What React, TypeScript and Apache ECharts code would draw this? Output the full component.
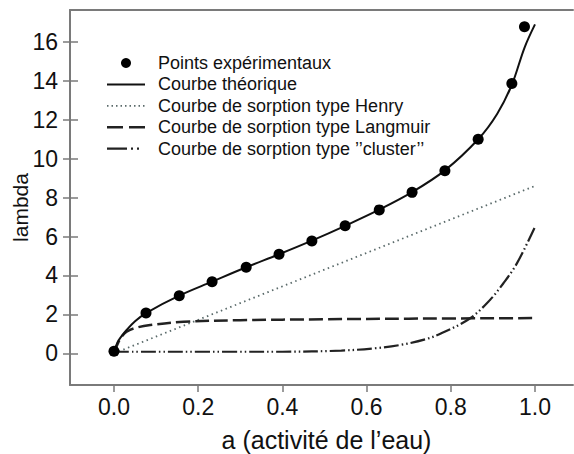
import React, { useEffect, useRef } from "react";
import * as echarts from "echarts";

// Experimental points (water activity, lambda)
const pointsX = [0.0, 0.076, 0.155, 0.233, 0.314, 0.392, 0.47, 0.549, 0.63, 0.708, 0.786, 0.865, 0.945, 0.975];
const pointsY = [0.1, 2.07, 2.96, 3.68, 4.42, 5.09, 5.77, 6.55, 7.37, 8.27, 9.38, 11.0, 13.87, 16.78];

// Theoretical curve
const theoX = [0, 0.008, 0.018, 0.03, 0.05, 0.076, 0.155, 0.233, 0.314, 0.392, 0.47, 0.549, 0.63, 0.708, 0.786, 0.865, 0.91, 0.945, 0.975, 1.0];
const theoY = [0.05, 0.55, 0.88, 1.2, 1.65, 2.07, 2.96, 3.68, 4.42, 5.09, 5.79, 6.55, 7.38, 8.28, 9.4, 11.0, 12.3, 13.8, 15.7, 16.9];

// Henry sorption (straight line)
const henryX = [0, 1.0];
const henryY = [0, 8.6];

// Langmuir sorption
const langX = [0, 0.01, 0.02, 0.03, 0.05, 0.086, 0.165, 0.3, 0.5, 0.7, 1.0];
const langY = [0, 0.55, 0.9, 1.11, 1.3, 1.45, 1.62, 1.7, 1.75, 1.78, 1.81];

// Cluster sorption
const clusX = [0, 0.4, 0.54, 0.62, 0.68, 0.74, 0.78, 0.846, 0.893, 0.925, 0.957, 1.0];
const clusY = [0.08, 0.08, 0.14, 0.26, 0.43, 0.72, 1.05, 1.8, 2.74, 3.6, 4.62, 6.5];

const xTicks = [0, 0.2, 0.4, 0.6, 0.8, 1.0];
const yTicks = [0, 2, 4, 6, 8, 10, 12, 14, 16];

const names = [
  "Points expérimentaux",
  "Courbe théorique",
  "Courbe de sorption type Henry",
  "Courbe de sorption type Langmuir",
  "Courbe de sorption type \u2019\u2019cluster\u2019\u2019",
];

const zip = (xs: number[], ys: number[]) => xs.map((x, i) => [x, ys[i]]);

const FONT = "'Liberation Sans', Arial, sans-serif";
const AXIS_GRAY = "#7a7a7a";

const HENRY_COLOR = "#5a6a6a";
const HENRY_DASH = [1.5, 3.5];
const LANG_DASH = [14, 5];
const CLUS_DASH = [15, 3, 1.5, 3, 1.5, 3];

function legendGraphic() {
  const x0 = 107;
  const x1 = 145;
  const tx = 158;
  const y0 = 63;
  const dy = 21.4;
  const els: any[] = [];
  const lineStyles: any[] = [
    null,
    { stroke: "#111", lineWidth: 2 },
    { stroke: HENRY_COLOR, lineWidth: 1.8, lineDash: [1.5, 3] },
    { stroke: "#222", lineWidth: 2.5, lineDash: [16, 6] },
    { stroke: "#222", lineWidth: 2.2, lineDash: [20, 4, 2, 4, 2, 6] },
  ];
  names.forEach((n, i) => {
    const y = y0 + i * dy;
    if (i === 0) {
      els.push({ type: "circle", shape: { cx: (x0 + x1) / 2, cy: y, r: 5 }, style: { fill: "#000" } });
    } else {
      els.push({ type: "line", shape: { x1: x0, y1: y, x2: x1, y2: y }, style: lineStyles[i] });
    }
    els.push({
      type: "text",
      x: tx,
      y,
      style: {
        text: n,
        fill: "#111",
        font: `18px ${FONT}`,
        verticalAlign: "middle",
        align: "left",
      },
    });
  });
  return els;
}

export default function App() {
  const ref = useRef<HTMLDivElement>(null);
  useEffect(() => {
    if (!ref.current) return;
    const chart = echarts.init(ref.current, undefined, { renderer: "svg" });
    const xMin = (70 - 114) / 421;
    const xMax = (573 - 114) / 421;
    const yMin = -(385 - 353.3) / 19.46;
    const yMax = (353.3 - 10) / 19.46;
    chart.setOption({
      animation: false,
      backgroundColor: "#ffffff",
      textStyle: { fontFamily: FONT },
      grid: { left: 70, right: 1, top: 10, bottom: 69, containLabel: false, outerBoundsMode: "none" },
      graphic: legendGraphic(),
      xAxis: [
        {
          type: "value",
          min: xMin,
          max: xMax,
          position: "bottom",
          name: "a (activit\u00E9 de l\u2019eau)",
          nameLocation: "middle",
          nameGap: 42,
          nameMoveOverlap: false,
          nameTextStyle: { fontSize: 25, color: "#111", fontFamily: FONT, padding: [0, 0, 0, 10] },
          axisLine: { show: true, onZero: false, lineStyle: { color: AXIS_GRAY, width: 2 } },
          axisTick: {
            show: true,
            inside: false,
            length: 7,
            customValues: xTicks,
            lineStyle: { color: AXIS_GRAY, width: 1.5 },
          },
          axisLabel: {
            show: true,
            margin: 10,
            fontSize: 23,
            color: "#111",
            fontFamily: FONT,
            customValues: xTicks,
            formatter: (v: number) => v.toFixed(1),
          },
          splitLine: { show: false },
        },
        {
          type: "value",
          min: xMin,
          max: xMax,
          position: "top",
          axisLine: { show: true, onZero: false, lineStyle: { color: AXIS_GRAY, width: 2 } },
          axisTick: { show: false },
          axisLabel: { show: false },
          splitLine: { show: false },
        },
      ],
      yAxis: [
        {
          type: "value",
          min: yMin,
          max: yMax,
          position: "left",
          name: "lambda",
          nameLocation: "middle",
          nameGap: 39,
          nameMoveOverlap: false,
          nameTextStyle: { fontSize: 21, color: "#111", fontFamily: FONT, padding: [0, 20, 0, 0] },
          axisLine: { show: true, onZero: false, lineStyle: { color: AXIS_GRAY, width: 2 } },
          axisTick: {
            show: true,
            inside: false,
            length: 7,
            customValues: yTicks,
            lineStyle: { color: AXIS_GRAY, width: 1.5 },
          },
          axisLabel: {
            show: true,
            margin: 12,
            fontSize: 23,
            color: "#111",
            fontFamily: FONT,
            customValues: yTicks,
          },
          splitLine: { show: false },
        },
        {
          type: "value",
          min: yMin,
          max: yMax,
          position: "left",
          axisLine: { show: false, onZero: false },
          axisTick: {
            show: true,
            inside: true,
            length: 8,
            customValues: yTicks,
            lineStyle: { color: AXIS_GRAY, width: 1.5 },
          },
          axisLabel: { show: false, customValues: yTicks },
          splitLine: { show: false },
        },
      ],
      series: [
        {
          name: names[0],
          type: "scatter",
          symbol: "circle",
          symbolSize: 11,
          itemStyle: { color: "#000", opacity: 1 },
          data: zip(pointsX, pointsY),
          z: 5,
        },
        {
          name: names[1],
          type: "line",
          smooth: 0.35,
          showSymbol: false,
          symbol: "none",
          lineStyle: { color: "#111", width: 2 },
          data: zip(theoX, theoY),
          z: 4,
        },
        {
          name: names[2],
          type: "line",
          showSymbol: false,
          symbol: "none",
          lineStyle: { color: HENRY_COLOR, width: 1.8, type: HENRY_DASH },
          data: zip(henryX, henryY),
          z: 3,
        },
        {
          name: names[3],
          type: "line",
          smooth: 0.35,
          showSymbol: false,
          symbol: "none",
          lineStyle: { color: "#222", width: 2.5, type: LANG_DASH },
          data: zip(langX, langY),
          z: 3,
        },
        {
          name: names[4],
          type: "line",
          smooth: 0.35,
          showSymbol: false,
          symbol: "none",
          lineStyle: { color: "#222", width: 2.2, type: CLUS_DASH },
          data: zip(clusX, clusY),
          z: 3,
        },
      ],
    });
    return () => chart.dispose();
  }, []);
  return (
    <div
      ref={ref}
      style={{ position: "fixed", left: 0, top: 0, width: 574, height: 454, background: "#fff" }}
    />
  );
}
